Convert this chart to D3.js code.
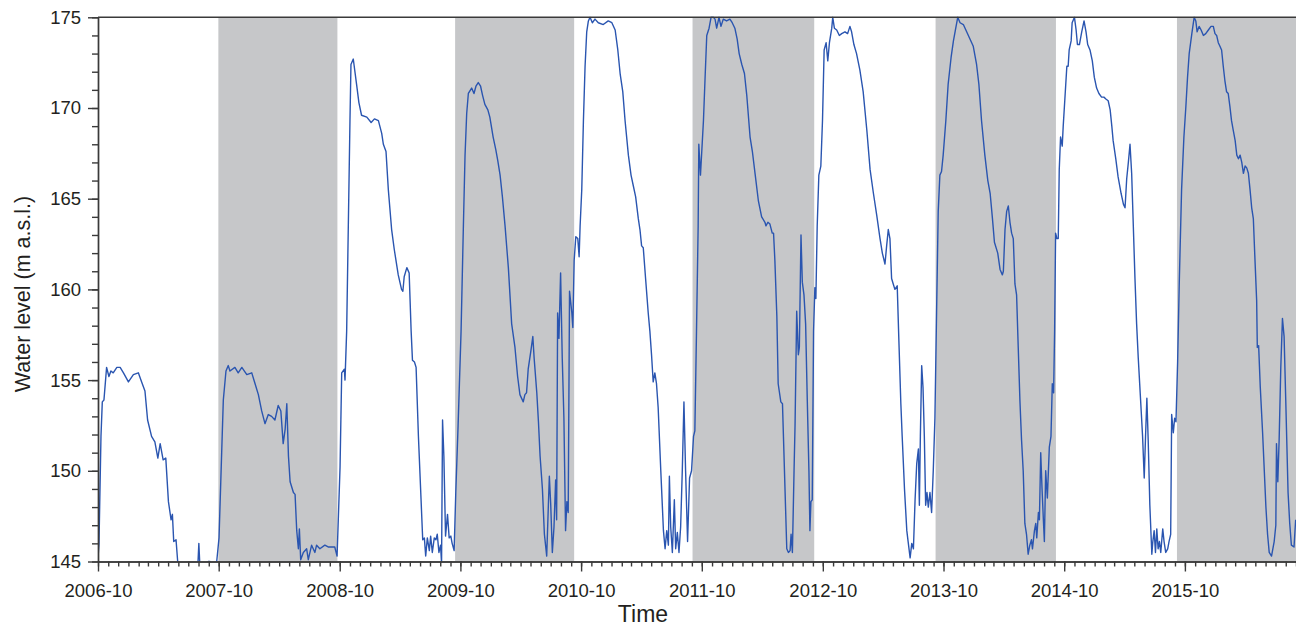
<!DOCTYPE html>
<html lang="en">
<head>
    <meta charset="UTF-8">
    <title>Water level</title>
    <script src="https://d3js.org/d3.v7.min.js"></script>
    <style>
        body { margin: 0; background: #fff; }
        text { font-family: "Liberation Sans", Arial, sans-serif; fill: #231f20; }
    </style>
</head>
<body>
<div id="chart"></div>
<script>
    // Water level per hydrological year: [day since 1 October, level (m a.s.l.)]
    const wy2006 = [[0,145.2],[3,146.0],[9,151.9],[13,153.8],[18,153.9],[26,155.7],[33,155.2],[39,155.5],[46,155.4],[57,155.7],[67,155.7],[77,155.4],[92,154.9],[107,155.3],[122,155.4],[132,154.9],[142,154.4],[150,152.8],[162,151.9],[172,151.6],[181,150.7],[188,151.5],[197,150.6],[205,150.7],[213,148.3],[221,147.3],[225,147.6],[229,146.1],[236,146.2],[241,145.0],[248,144.7],[278,144.6],[302,144.8],[305,146.0],[308,144.8],[326,144.9],[333,145.0],[339,145.0],[345,144.8],[359,145.0]];
    const wy2007 = [[1,146.3],[9,151.0],[14,153.9],[22,155.5],[29,155.8],[34,155.5],[49,155.7],[59,155.4],[70,155.7],[85,155.3],[100,155.4],[110,154.8],[120,154.2],[130,153.3],[140,152.6],[150,153.1],[160,153.0],[170,152.8],[180,153.6],[188,153.3],[195,151.5],[201,152.3],[206,153.7],[211,150.8],[216,149.4],[226,148.8],[231,148.7],[236,146.7],[241,145.7],[244,146.8],[248,145.1],[256,145.5],[266,145.7],[271,145.1],[281,145.9],[291,145.5],[296,145.9],[306,145.7],[321,145.9],[331,145.8],[351,145.8],[358,145.3]];
    const wy2008 = [[1,150.2],[6,155.4],[14,155.6],[16,155.0],[21,157.7],[26,163.5],[31,169.3],[34,172.4],[41,172.7],[51,171.3],[58,170.3],[66,169.6],[82,169.5],[95,169.2],[105,169.4],[117,169.3],[127,168.6],[132,168.0],[140,167.6],[147,165.5],[157,163.3],[165,162.2],[177,160.8],[187,160.0],[191,159.9],[195,160.7],[203,161.2],[210,160.9],[216,157.7],[220,156.1],[226,156.0],[231,155.7],[238,151.9],[246,148.4],[251,146.2],[256,146.3],[260,145.3],[265,146.3],[271,145.6],[275,146.4],[280,145.5],[286,146.3],[291,146.2],[295,146.5],[300,145.5],[305,145.9],[308,144.9],[311,152.8],[315,150.8],[320,146.4],[326,147.6],[331,146.3],[336,146.4],[340,146.0],[346,145.6],[351,148.8],[358,152.5]];
    const wy2009 = [[2,157.7],[9,163.5],[14,167.4],[19,169.7],[24,170.8],[34,171.1],[41,170.8],[47,171.2],[54,171.4],[61,171.2],[67,170.7],[74,170.2],[83,169.9],[89,169.5],[99,168.4],[107,167.7],[113,167.1],[120,166.3],[127,165.1],[135,163.5],[145,161.2],[155,158.1],[165,156.8],[173,155.2],[180,154.2],[190,153.8],[195,154.2],[200,154.3],[205,155.6],[213,156.6],[219,157.4],[223,156.2],[231,154.3],[236,152.7],[241,150.8],[248,149.0],[254,146.5],[261,145.3],[266,148.1],[269,149.7],[273,148.2],[278,145.5],[283,146.9],[288,149.5],[291,147.3],[294,158.7],[298,157.3],[303,160.9],[308,156.2],[313,152.9],[318,146.7],[322,148.3],[326,147.7],[330,159.9],[337,158.7],[340,157.9],[344,161.6],[349,162.9],[355,162.8],[359,161.8],[362,163.5]];
    const wy2010 = [[2,165.5],[7,169.3],[12,172.3],[17,174.2],[22,174.8],[27,175.0],[34,174.7],[42,174.9],[52,174.7],[67,174.6],[82,174.8],[93,174.7],[103,174.3],[111,173.2],[118,171.9],[126,170.9],[133,169.3],[143,167.4],[151,166.3],[158,165.7],[165,165.1],[173,163.9],[178,163.3],[183,162.4],[188,162.3],[195,160.6],[203,158.7],[208,157.7],[213,156.4],[218,154.9],[223,155.4],[228,154.8],[233,153.5],[241,150.0],[249,146.7],[254,145.7],[259,146.7],[264,145.9],[267,149.7],[271,146.9],[276,145.5],[282,148.4],[286,145.7],[291,146.6],[296,145.5],[301,146.9],[306,150.0],[311,153.8],[316,150.0],[322,146.1],[328,149.6],[334,150.0],[340,151.9],[344,152.2],[349,157.7],[354,163.5],[356,168.0],[361,166.3]];
    const wy2011 = [[5,169.3],[10,171.7],[15,174.0],[22,174.4],[28,175.0],[35,175.0],[40,174.9],[45,174.4],[52,175.0],[58,174.5],[65,174.9],[75,174.8],[85,174.9],[92,174.7],[100,174.4],[107,173.8],[113,173.0],[121,172.4],[129,171.9],[136,170.7],[146,168.4],[153,167.6],[161,166.4],[171,164.9],[181,164.0],[191,163.7],[194,163.5],[200,163.7],[206,163.6],[213,163.1],[217,163.1],[221,161.6],[227,158.5],[231,154.8],[239,153.8],[244,153.7],[250,150.0],[257,145.7],[262,145.5],[267,145.6],[270,146.5],[274,145.5],[279,150.0],[282,152.5],[287,158.8],[292,156.4],[295,156.8],[300,163.0],[304,160.4],[309,159.7],[314,158.1],[319,153.9],[324,150.0],[327,146.7],[330,148.3],[334,148.4],[338,157.7],[342,160.1],[345,159.5],[349,163.5],[354,166.3],[360,166.8],[365,169.3]];
    const wy2012 = [[4,173.2],[10,173.6],[15,172.6],[20,173.6],[27,174.4],[30,175.0],[35,174.4],[42,174.3],[50,174.0],[57,174.1],[67,174.2],[75,174.1],[82,174.5],[87,174.2],[94,173.5],[102,173.0],[112,172.1],[122,170.9],[133,168.8],[143,166.6],[153,165.3],[163,164.1],[173,162.8],[180,162.0],[188,161.4],[193,162.4],[198,163.3],[203,162.8],[208,160.6],[213,160.3],[218,160.0],[225,160.2],[230,157.2],[236,153.7],[240,151.9],[247,149.0],[254,146.7],[258,146.1],[264,145.2],[269,146.0],[274,145.7],[279,148.4],[284,150.4],[289,151.2],[292,148.1],[295,151.9],[299,155.8],[303,154.6],[307,151.9],[311,148.1],[315,148.8],[319,148.0],[324,148.8],[329,147.7],[334,150.0],[339,152.9],[344,158.7],[349,164.3],[354,166.3],[359,166.5],[364,167.4]];
    const wy2013 = [[7,169.3],[14,171.3],[23,172.8],[30,173.7],[37,174.4],[43,175.0],[50,174.7],[60,174.6],[70,174.2],[80,173.8],[90,173.4],[100,172.4],[107,171.3],[115,169.3],[125,167.4],[134,166.0],[141,165.3],[148,163.9],[154,162.6],[164,162.0],[171,161.1],[178,160.8],[181,161.0],[186,163.3],[191,164.3],[196,164.6],[201,163.7],[206,163.1],[211,162.8],[216,160.3],[221,159.7],[226,156.8],[231,153.9],[236,151.7],[241,150.0],[246,147.1],[251,146.5],[256,145.4],[261,145.9],[266,146.2],[269,145.7],[275,146.7],[279,147.1],[282,146.3],[287,147.7],[290,147.3],[294,151.0],[298,149.0],[302,147.3],[305,146.1],[309,150.0],[314,148.5],[320,151.3],[325,151.9],[329,154.8],[333,154.3],[336,157.7],[339,163.1],[343,162.8],[347,162.8],[350,166.6],[354,168.4],[359,167.9],[362,169.0]];
    const wy2014 = [[2,170.5],[8,172.3],[12,172.3],[15,173.2],[21,173.7],[24,174.7],[31,175.0],[36,174.3],[40,173.5],[46,173.5],[53,174.2],[60,174.8],[66,174.2],[71,173.5],[78,173.2],[85,172.6],[91,171.7],[98,171.1],[105,170.8],[113,170.6],[120,170.6],[126,170.5],[133,170.4],[139,169.9],[144,169.0],[148,168.2],[156,167.2],[163,166.2],[172,165.3],[179,164.7],[184,164.5],[189,166.1],[194,167.0],[199,168.0],[204,166.4],[209,163.5],[214,160.6],[219,158.1],[224,156.2],[231,153.9],[237,151.9],[242,149.6],[246,151.9],[250,154.0],[254,151.7],[259,148.1],[265,145.4],[268,146.1],[272,146.7],[276,145.5],[280,146.8],[284,145.7],[288,146.1],[292,145.5],[298,146.8],[302,146.1],[307,145.5],[313,145.7],[317,146.1],[322,146.5],[325,153.1],[330,152.1],[334,152.9],[338,152.7],[343,156.0],[348,160.4],[355,165.5],[362,168.4]];
    const wy2015 = [[3,170.1],[8,171.7],[13,173.0],[21,174.1],[28,175.0],[33,174.8],[37,174.2],[43,174.5],[49,174.3],[56,174.0],[63,174.1],[71,174.3],[79,174.5],[86,174.5],[91,174.1],[96,174.0],[101,173.6],[106,173.4],[111,173.2],[116,172.3],[121,171.5],[126,170.9],[131,170.8],[136,170.1],[141,169.3],[146,168.8],[152,168.2],[157,167.4],[162,167.2],[167,167.4],[172,167.0],[177,166.4],[182,166.8],[187,166.7],[192,166.4],[197,165.5],[202,164.5],[207,163.9],[212,161.6],[217,159.4],[219,156.8],[223,156.9],[228,154.6],[235,152.1],[245,148.0],[250,146.5],[255,145.5],[262,145.3],[270,146.1],[275,147.0],[277,151.5],[281,149.4],[285,151.7],[290,155.7],[295,158.4],[300,157.4],[305,153.9],[312,148.8],[317,147.1],[322,145.9],[330,145.8],[335,147.3]];

    const waterYears = [2006, 2007, 2008, 2009, 2010, 2011, 2012, 2013, 2014, 2015];
    const levels = [wy2006, wy2007, wy2008, wy2009, wy2010, wy2011, wy2012, wy2013, wy2014, wy2015];

    // grey periods
    const bandStart = ["2007-09-30", "2009-09-15", "2011-09-03", "2013-09-07", "2015-09-07"];
    const bandEnd   = ["2008-09-24", "2010-09-10", "2012-09-05", "2014-09-06", "2016-09-01"];

    const yTicks = [145, 150, 155, 160, 165, 170, 175];
    const xStart = "2006-10-01", xEnd = "2016-09-01";

    const width = 1296, height = 629;
    const margin = {top: 17.3, right: 0, bottom: 67.5, left: 98};
    const parse = d3.timeParse("%Y-%m-%d");

    const series = [];
    levels.forEach((yr, i) => {
        const start = new Date(waterYears[i], 9, 1);
        yr.forEach(p => series.push({date: d3.timeDay.offset(start, p[0]), level: p[1]}));
    });

    const svg = d3.select("#chart").append("svg")
        .attr("width", width)
        .attr("height", height);

    const x = d3.scaleTime()
        .domain([parse(xStart), parse(xEnd)])
        .range([margin.left, width - margin.right]);

    const y = d3.scaleLinear()
        .domain([145, 175])
        .range([height - margin.bottom, margin.top]);

    svg.append("clipPath").attr("id", "plot")
        .append("rect")
        .attr("x", margin.left)
        .attr("y", margin.top - 1)
        .attr("width", width - margin.left - margin.right)
        .attr("height", height - margin.bottom - margin.top + 1);

    // shaded periods
    svg.append("g").selectAll("rect")
        .data(bandStart.map((s, i) => [parse(s), parse(bandEnd[i])]))
        .join("rect")
        .attr("x", d => x(d[0]))
        .attr("y", y(175))
        .attr("width", d => x(d[1]) - x(d[0]))
        .attr("height", y(145) - y(175))
        .attr("fill", "#c6c7c9");

    const line = d3.line()
        .x(d => x(d.date))
        .y(d => y(d.level));

    svg.append("path")
        .datum(series)
        .attr("clip-path", "url(#plot)")
        .attr("fill", "none")
        .attr("stroke", "#2a55b0")
        .attr("stroke-width", 1.4)
        .attr("stroke-linejoin", "round")
        .attr("d", line);

    const axisColor = "#3a3a3a";
    const months = d3.timeMonth.range(parse(xStart), d3.timeDay.offset(parse(xEnd), 1));
    const octobers = months.filter(d => d.getMonth() === 9);

    // x axis: minor monthly ticks, major ones every October
    svg.append("g")
        .attr("transform", `translate(0,${y(145)})`)
        .call(d3.axisBottom(x).tickValues(months).tickSize(5).tickSizeOuter(0).tickFormat(""));

    svg.append("g")
        .attr("transform", `translate(0,${y(145)})`)
        .call(d3.axisBottom(x).tickValues(octobers).tickSize(10).tickSizeOuter(0)
            .tickPadding(12).tickFormat(d3.timeFormat("%Y-%m")))
        .selectAll("text").style("font-size", "18.5px");

    // y axis
    svg.append("g")
        .attr("transform", `translate(${margin.left},0)`)
        .call(d3.axisLeft(y).tickValues(d3.range(145, 176)).tickSize(6).tickSizeOuter(0).tickFormat(""));

    svg.append("g")
        .attr("transform", `translate(${margin.left},0)`)
        .call(d3.axisLeft(y).tickValues(yTicks).tickSize(10).tickSizeOuter(0).tickPadding(7))
        .selectAll("text").style("font-size", "18.5px");

    svg.selectAll(".domain, .tick line")
        .attr("stroke", axisColor)
        .attr("stroke-width", 1.4);

    // top frame line
    svg.append("line")
        .attr("x1", margin.left).attr("x2", width - margin.right)
        .attr("y1", y(175)).attr("y2", y(175))
        .attr("stroke", axisColor)
        .attr("stroke-width", 1.4);

    svg.append("text")
        .attr("x", 643)
        .attr("y", 622)
        .attr("text-anchor", "middle")
        .style("font-size", "23px")
        .text("Time");

    svg.append("text")
        .attr("transform", "rotate(-90)")
        .attr("x", -294)
        .attr("y", 30)
        .attr("text-anchor", "middle")
        .style("font-size", "21.5px")
        .text("Water level (m a.s.l.)");
</script>
</body>
</html>
